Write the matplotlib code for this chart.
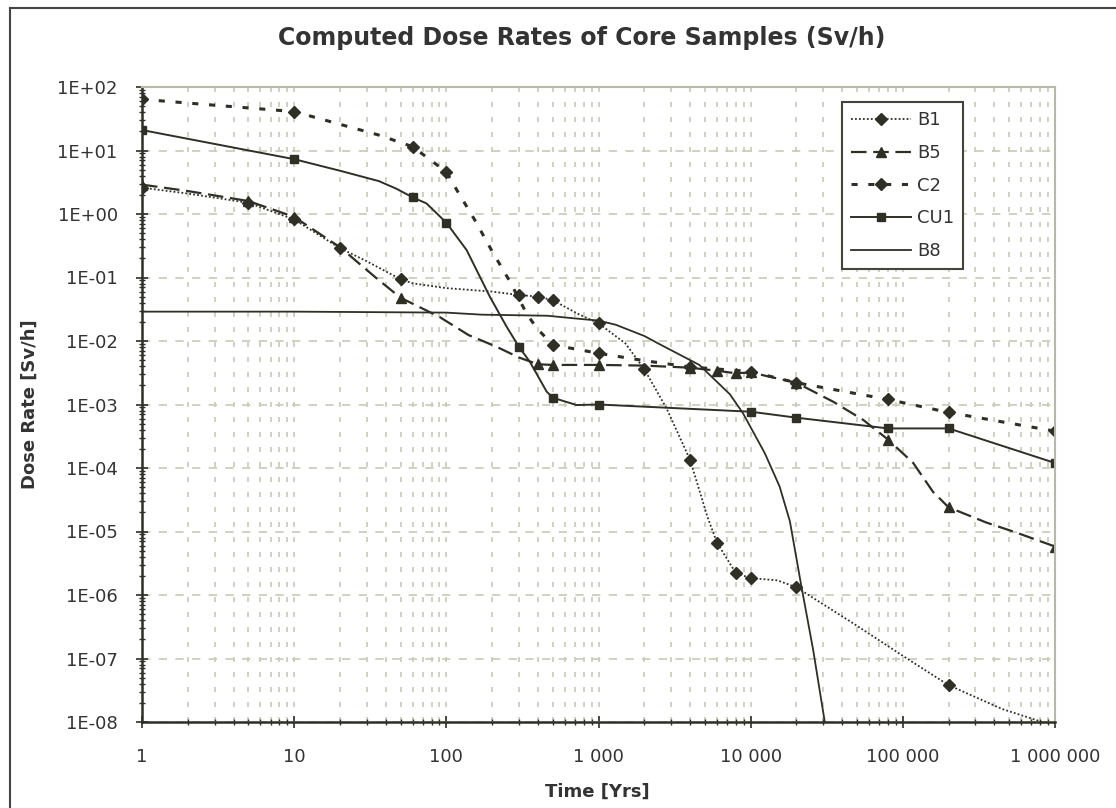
import matplotlib
matplotlib.use("Agg")
import matplotlib.pyplot as plt
import matplotlib.ticker as mticker
from matplotlib.lines import Line2D
import numpy as np

plt.rcParams['font.family'] = ['DejaVu Sans']

# data (time in years, dose rate in Sv/h)
b1_t = [1, 2, 5, 10, 20, 30, 50, 60, 100, 200, 300, 400, 500, 750, 1000, 1500, 2000,
        2800, 4000, 5200, 6000, 8000, 10000, 15000, 20000, 47000, 110000, 200000, 450000, 1000000]
b1_v = [2.6, 2.1, 1.5, 0.82, 0.29, 0.18, 0.094, 0.081, 0.068, 0.06, 0.053, 0.05, 0.044, 0.026,
        0.019, 0.0092, 0.0036, 8.7e-4, 1.34e-4, 1.7e-5, 6.7e-6, 2.2e-6, 1.85e-6, 1.7e-6, 1.32e-6,
        3.6e-7, 9.5e-8, 3.8e-8, 1.6e-8, 8.6e-9]
b1_mark = [1, 5, 10, 20, 50, 300, 400, 500, 1000, 2000, 4000, 6000, 8000, 10000, 20000, 200000]

b5_t = [1, 2, 5, 10, 20, 35, 50, 90, 140, 214, 300, 400, 500, 1000, 2000, 4000, 6000, 8000,
        10000, 20000, 35000, 55000, 80000, 117000, 158000, 200000, 355000, 558000, 1000000]
b5_v = [2.9, 2.3, 1.6, 0.9, 0.3, 0.096, 0.048, 0.024, 0.0124, 0.0081, 0.0055, 0.0043, 0.0042,
        0.0042, 0.0041, 0.0038, 0.0034, 0.0031, 0.0032, 0.0022, 0.0011, 5.7e-4, 2.8e-4, 1.2e-4,
        4.2e-5, 2.4e-5, 1.38e-5, 9.6e-6, 5.8e-6]
b5_mark = [1, 5, 10, 50, 400, 500, 1000, 4000, 6000, 8000, 10000, 20000, 80000, 200000, 1000000]

c2_t = [1, 2.9, 10, 36, 60, 100, 117, 154, 198, 262, 337, 392, 500, 1000, 2000, 4000, 10000,
        20000, 80000, 200000, 1000000]
c2_v = [64, 52, 41, 17.5, 11.5, 4.6, 2.4, 0.8, 0.27, 0.086, 0.027, 0.016, 0.0087, 0.0064,
        0.0049, 0.0039, 0.0033, 0.0022, 0.0012, 7.5e-4, 3.8e-4]
c2_mark = [1, 10, 60, 100, 500, 1000, 4000, 10000, 20000, 80000, 200000, 1000000]

cu1_t = [1, 10, 20, 36, 47, 60, 74, 100, 136, 193, 249, 300, 354, 456, 500, 718, 1000, 10000,
         20000, 80000, 200000, 1000000]
cu1_v = [21, 7.3, 4.8, 3.3, 2.5, 1.83, 1.47, 0.73, 0.27, 0.05, 0.0168, 0.0081, 0.0047, 0.0016,
         0.00128, 9.8e-4, 0.001, 7.7e-4, 6.2e-4, 4.2e-4, 4.2e-4, 1.2e-4]
cu1_mark = [1, 10, 60, 100, 300, 500, 1000, 10000, 20000, 80000, 200000, 1000000]

b8_t = [1, 10, 100, 170, 460, 800, 1000, 1300, 2000, 2500, 4600, 7300, 8900, 12400, 15500,
        18100, 21400, 25700, 30700, 31500]
b8_v = [0.029, 0.029, 0.028, 0.026, 0.025, 0.022, 0.021, 0.018, 0.012, 0.009, 0.0042, 0.00145,
        7.3e-4, 1.7e-4, 5.1e-5, 1.45e-5, 1.5e-6, 1.4e-7, 1e-8, 8e-9]

x_ticks = [1, 10, 100, 1000, 10000, 100000, 1000000]
x_labels = ['1', '10', '100', '1 000', '10 000', '100 000', '1 000 000']
y_exps = list(range(-8, 3))
y_labels = ['1E-08', '1E-07', '1E-06', '1E-05', '1E-04', '1E-03', '1E-02', '1E-01',
            '1E+00', '1E+01', '1E+02']

line_col = '#2f2f26'
grid_col = '#cacab8'

fig = plt.figure(figsize=(11.16, 8.08), dpi=100)
ax = fig.add_axes([142/1116, 1-722/808, (1055-142)/1116, (722-87)/808])

def marks(t, m):
    return list(np.isin(np.array(t, dtype=float), np.array(m, dtype=float)))

ax.plot(b1_t, b1_v, color=line_col, lw=1.3, linestyle=(0, (1, 1.2)), marker='D', ms=6,
        markevery=marks(b1_t, b1_mark), label='B1')
ax.plot(b5_t, b5_v, color=line_col, lw=1.6, linestyle=(0, (7, 3)), marker='^', ms=7,
        markevery=marks(b5_t, b5_mark), label='B5')
ax.plot(c2_t, c2_v, color=line_col, lw=2.2, linestyle=(0, (2, 3.5)), marker='D', ms=6,
        markevery=marks(c2_t, c2_mark), label='C2')
ax.plot(cu1_t, cu1_v, color=line_col, lw=1.4, marker='s', ms=5.5,
        markevery=marks(cu1_t, cu1_mark), label='CU1')
ax.plot(b8_t, b8_v, color=line_col, lw=1.3, label='B8')

ax.set_xscale('log')
ax.set_yscale('log')
ax.set_xlim(1, 1e6)
ax.set_ylim(1e-8, 1e2)

# fixed ticks so no labels exist outside the plot range
x_minor = [m * 10.0 ** e for e in range(0, 6) for m in range(2, 10)]
y_minor = [m * 10.0 ** e for e in range(-8, 2) for m in range(2, 10)]
ax.set_xticks(x_ticks)
ax.set_xticklabels(x_labels)
ax.set_xticks(x_minor, minor=True)
ax.set_yticks([10.0 ** e for e in y_exps])
ax.set_yticklabels(y_labels)
ax.set_yticks(y_minor, minor=True)
ax.xaxis.set_minor_formatter(mticker.NullFormatter())
ax.yaxis.set_minor_formatter(mticker.NullFormatter())

ax.tick_params(axis='both', which='major', direction='inout', length=9, width=1.2,
               colors=line_col, labelsize=13, labelcolor='#333333')
ax.tick_params(axis='both', which='minor', direction='inout', length=5, width=1, colors=line_col)
ax.tick_params(axis='x', which='major', pad=14)
ax.tick_params(axis='y', which='major', pad=13)

ax.grid(True, axis='y', which='major', color=grid_col, linestyle=(0, (5, 5)), lw=1.2)
ax.grid(True, axis='x', which='both', color=grid_col, linestyle=(0, (3, 6)), lw=1.2)
ax.set_axisbelow(True)

for s in ['left', 'bottom']:
    ax.spines[s].set_color(line_col)
    ax.spines[s].set_linewidth(1.8)
for s in ['top', 'right']:
    ax.spines[s].set_color('#b8b8a8')
    ax.spines[s].set_linewidth(1.5)

fig.text(582/1116, 1-38/808, 'Computed Dose Rates of Core Samples (Sv/h)', ha='center', va='center',
         fontsize=17, fontweight='bold', color='#333333')
fig.text(30/1116, 1-404/808, 'Dose Rate [Sv/h]', rotation=90, ha='center', va='center',
         fontsize=13, fontweight='bold', color='#333333')
fig.text(597/1116, 1-792/808, 'Time [Yrs]', ha='center', va='center',
         fontsize=13, fontweight='bold', color='#333333')

leg = ax.legend(loc='upper left', bbox_to_anchor=(842/1116, 1-102/808), bbox_transform=fig.transFigure,
                fontsize=13, handlelength=3.3, handletextpad=0.35, labelspacing=0.82, borderpad=0.5,
                borderaxespad=0, fancybox=False, framealpha=1, edgecolor='#444438')
leg.get_frame().set_linewidth(1.5)
for t in leg.get_texts():
    t.set_color('#333333')

# chart area border: only top and left edges are inside the picture
fig.add_artist(Line2D([10/1116, 1], [1-8/808, 1-8/808], transform=fig.transFigure,
                      color='#444444', lw=1.5))
fig.add_artist(Line2D([10/1116, 10/1116], [0, 1-8/808], transform=fig.transFigure,
                      color='#444444', lw=1.5))

fig.savefig('out.png', dpi=100)
